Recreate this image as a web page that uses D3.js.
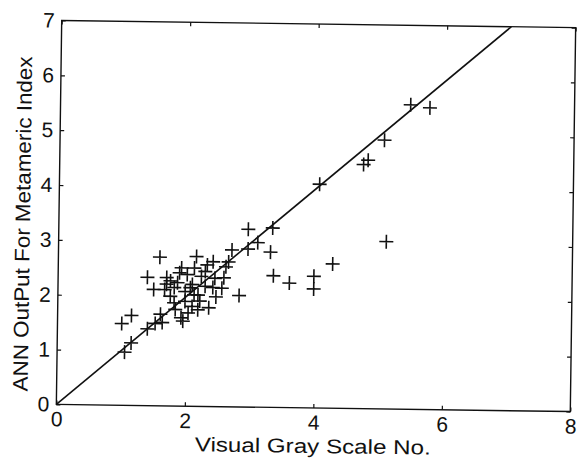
<!DOCTYPE html>
<html><head><meta charset="utf-8">
<script src="https://cdn.jsdelivr.net/npm/d3@7"></script>
<style>html,body{margin:0;padding:0;background:#fff;}svg{display:block;}</style>
</head><body>
<svg id="chart" width="579" height="464"></svg>
<script>
const xTicks = [0, 2, 4, 6, 8];
const yTicks = [0, 1, 2, 3, 4, 5, 6, 7];
const xLabel = "Visual Gray Scale No.";
const yLabel = "ANN OutPut For Metameric Index";
const visual = [5.45,5.75,5.05,4.73,4.8,4.05,5.1,4.27,3.98,3.98,3.6,3.35,3.3,3.33,3.1,2.95,2.95,2.82,2.7,2.65,2.61,2.58,2.55,2.46,2.41,2.32,2.29,2.23,2.15,2.12,2.09,2.06,2.12,2.18,2.21,2.09,2.18,2.35,2.41,1.92,1.89,1.86,1.81,1.75,1.81,1.83,1.92,1.95,1.75,1.69,1.66,1.58,1.49,1.39,1.6,1.63,1.52,1.4,1.15,1.0,1.15,1.05,1.98,1.98,2.29,2.44,2.01,1.69,2.03];
const ann = [5.55,5.5,4.9,4.45,4.53,4.08,3.05,2.63,2.4,2.17,2.27,2.4,2.83,3.27,3.0,3.24,2.88,2.03,2.86,2.64,2.55,2.35,2.16,2.0,2.64,2.58,2.46,2.37,2.73,2.52,2.22,2.16,2.03,2.03,1.92,1.82,1.76,1.8,2.17,2.52,2.43,2.25,2.16,2.0,1.88,1.76,1.61,1.55,2.28,2.22,2.12,2.71,2.12,2.34,1.67,1.52,1.5,1.4,1.64,1.49,1.14,0.97,2.09,1.91,2.19,2.34,2.4,2.34,1.7];
const refLine = [[0,0],[7,7]];

const svg = d3.select("#chart");
const L = 59, R = 573, T = 24, B = 408;
const x = d3.scaleLinear().domain([0, 8]).range([L, R]);
const y = d3.scaleLinear().domain([0, 7]).range([B, T]);
const g = svg.append("g").attr("transform", `rotate(0.8, ${(L+R)/2}, ${(T+B)/2})`);
const font = "'Liberation Sans', Arial, sans-serif";

// frame
g.append("rect").attr("x", L).attr("y", T).attr("width", R - L).attr("height", B - T)
  .attr("fill", "none").attr("stroke", "#111").attr("stroke-width", 1.4);

const tl = 4;
const axB = g.append("g").attr("transform", `translate(0,${B})`)
  .call(d3.axisBottom(x).tickValues(xTicks).tickSize(-tl).tickPadding(7).tickFormat(d3.format("d")));
const axT = g.append("g").attr("transform", `translate(0,${T})`)
  .call(d3.axisTop(x).tickValues(xTicks).tickSize(-tl).tickFormat(""));
const axL = g.append("g").attr("transform", `translate(${L},0)`)
  .call(d3.axisLeft(y).tickValues(yTicks).tickSize(-tl).tickPadding(7).tickFormat(d3.format("d")));
const axR = g.append("g").attr("transform", `translate(${R},0)`)
  .call(d3.axisRight(y).tickValues(yTicks).tickSize(-tl).tickFormat(""));
[axB, axT, axL, axR].forEach(a => {
  a.select(".domain").remove();
  a.selectAll("line").attr("stroke", "#111").attr("stroke-width", 1.2);
  a.selectAll("text").attr("fill", "#111").style("font-family", font).style("font-size", "21px");
});

// y = x reference line
g.append("path").datum(refLine)
  .attr("d", d3.line().x(d => x(d[0])).y(d => y(d[1])))
  .attr("stroke", "#111").attr("stroke-width", 1.6).attr("fill", "none");

// plus markers
const s = 7;
const pts = visual.map((v, i) => [v, ann[i]]);
g.append("g").selectAll("path").data(pts).join("path")
  .attr("d", d => `M${x(d[0]) - s},${y(d[1])}H${x(d[0]) + s}M${x(d[0])},${y(d[1]) - s}V${y(d[1]) + s}`)
  .attr("stroke", "#111").attr("stroke-width", 1.6).attr("fill", "none");

g.append("text").attr("x", 316).attr("y", 453).attr("text-anchor", "middle")
  .attr("textLength", 236).attr("lengthAdjust", "spacingAndGlyphs")
  .style("font-family", font).style("font-size", "20px").attr("fill", "#111").text(xLabel);
g.append("text").attr("transform", `translate(30,228) rotate(-90)`).attr("text-anchor", "middle")
  .attr("textLength", 335).attr("lengthAdjust", "spacingAndGlyphs")
  .style("font-family", font).style("font-size", "21px").attr("fill", "#111").text(yLabel);
</script>
</body></html>
